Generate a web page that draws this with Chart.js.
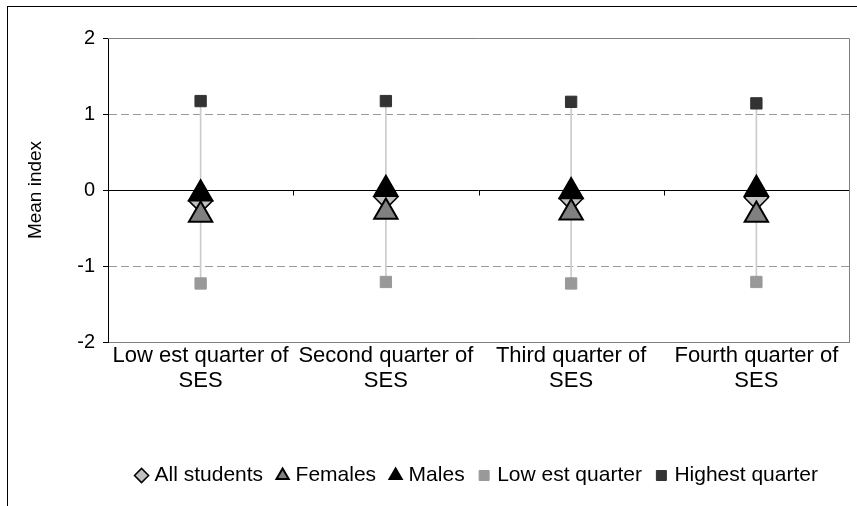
<!DOCTYPE html>
<html>
<head>
<meta charset="utf-8">
<script src="https://cdn.jsdelivr.net/npm/chart.js@4.4.1/dist/chart.umd.min.js"></script>
<style>
  html, body { margin: 0; padding: 0; background: #fff; }
  canvas { display: block; }
</style>
</head>
<body>
<canvas id="chart" width="857" height="506"></canvas>
<script>
// values
const categories = [
  ['Low est quarter of', 'SES'],
  ['Second quarter of', 'SES'],
  ['Third quarter of', 'SES'],
  ['Fourth quarter of', 'SES']
];
const allStudents = [-0.14, -0.09, -0.11, -0.10];
const females = [-0.33, -0.29, -0.30, -0.33];
const males = [-0.05, 0.01, -0.02, 0.01];
const lowestQuarter = [-1.23, -1.21, -1.23, -1.21];
const highestQuarter = [1.17, 1.17, 1.16, 1.14];
const yTicks = [-2, -1, 0, 1, 2];

Chart.defaults.font.family = '"Liberation Sans", Arial, sans-serif';
Chart.defaults.font.size = 20;
Chart.defaults.color = '#000';

const LEGEND_SHIFT = 44;

// outer frame, plot border, dashed grid and the zero line with category ticks
const framePlugin = {
  id: 'frame',
  afterLayout(chart) {
    if (chart.legend) {
      chart.legend.left += LEGEND_SHIFT;
      chart.legend.right += LEGEND_SHIFT;
    }
  },
  beforeDraw(chart) {
    const ctx = chart.ctx;
    ctx.save();
    ctx.strokeStyle = '#000';
    ctx.lineWidth = 1;
    ctx.strokeRect(7.5, 6.5, 900, 600);
    ctx.restore();
  },
  beforeDatasetsDraw(chart) {
    const { ctx, chartArea: a, scales: { x, y } } = chart;
    const top = Math.round(a.top) + 0.5;
    const right = Math.round(a.right) + 0.5;
    ctx.save();
    ctx.lineWidth = 1;
    ctx.strokeStyle = '#808080';
    ctx.beginPath();
    ctx.moveTo(a.left, top);
    ctx.lineTo(right, top);
    ctx.lineTo(right, a.bottom);
    ctx.stroke();

    ctx.strokeStyle = '#999';
    ctx.setLineDash([8, 4]);
    yTicks.forEach(v => {
      if (v === 0 || v === y.min || v === y.max) return;
      const py = Math.round(y.getPixelForValue(v)) + 0.5;
      ctx.beginPath();
      ctx.moveTo(a.left + 1, py);
      ctx.lineTo(a.right, py);
      ctx.stroke();
    });
    ctx.setLineDash([]);

    const z = Math.round(y.getPixelForValue(0)) + 0.5;
    ctx.strokeStyle = '#000';
    ctx.beginPath();
    ctx.moveTo(a.left, z);
    ctx.lineTo(a.right, z);
    for (let i = 1; i < categories.length; i++) {
      const px = Math.round((x.getPixelForValue(i - 1) + x.getPixelForValue(i)) / 2) + 0.5;
      ctx.moveTo(px, z);
      ctx.lineTo(px, z + 5);
    }
    ctx.stroke();
    ctx.restore();
  }
};

const markers = (label, data, style, radius, fill, stroke, width, order) => ({
  type: 'line',
  label: label,
  data: data,
  showLine: false,
  order: order,
  pointStyle: style,
  pointRadius: radius,
  pointHoverRadius: radius,
  backgroundColor: fill,
  borderColor: stroke,
  borderWidth: width,
  pointBackgroundColor: fill,
  pointBorderColor: stroke,
  pointBorderWidth: width
});

new Chart(document.getElementById('chart'), {
  type: 'line',
  data: {
    labels: categories,
    datasets: [
      {
        type: 'bar',
        label: 'range',
        data: lowestQuarter.map((v, i) => [v, highestQuarter[i]]),
        backgroundColor: '#cccccc',
        barThickness: 1,
        order: 6
      },
      markers('All students', allStudents, 'rectRot', 12, '#c0c0c0', '#000', 1.5, 3),
      markers('Females', females, 'triangle', 13.5, '#808080', '#000', 2, 2),
      markers('Males', males, 'triangle', 13.5, '#000', '#000', 2, 1),
      markers('Low est quarter', lowestQuarter, 'rect', 8, '#999999', '#999999', 1, 5),
      markers('Highest quarter', highestQuarter, 'rect', 8, '#333333', '#333333', 1, 4)
    ]
  },
  options: {
    responsive: false,
    animation: false,
    events: [],
    layout: { autoPadding: false, padding: { top: 38, left: 20, right: 8, bottom: 10 } },
    scales: {
      x: {
        offset: true,
        grid: { display: false, drawTicks: false },
        border: { display: true, color: '#808080', width: 1 },
        ticks: { padding: 1, maxRotation: 0, autoSkip: false, font: { size: 22, lineHeight: 1.14 } },
        afterFit: s => { s.height = 106; s.paddingLeft = 0; s.paddingRight = 0; }
      },
      y: {
        min: -2,
        max: 2,
        afterBuildTicks: s => { s.ticks = yTicks.map(v => ({ value: v })); },
        grid: { drawOnChartArea: false, drawTicks: true, tickLength: 5, color: '#000' },
        border: { display: true, color: '#000', width: 1 },
        ticks: { padding: 8, font: { size: 20 } },
        title: { display: true, text: 'Mean index', font: { size: 19 }, padding: { top: 4, bottom: 4 } },
        afterFit: s => { s.width = 88; }
      }
    },
    plugins: {
      tooltip: { enabled: false },
      legend: {
        position: 'bottom',
        labels: {
          usePointStyle: true,
          boxWidth: 5,
          boxHeight: 10,
          padding: 17,
          font: { size: 21 },
          filter: item => item.datasetIndex !== 0,
          sort: (a, b) => a.datasetIndex - b.datasetIndex
        }
      }
    }
  },
  plugins: [framePlugin]
});
</script>
</body>
</html>
